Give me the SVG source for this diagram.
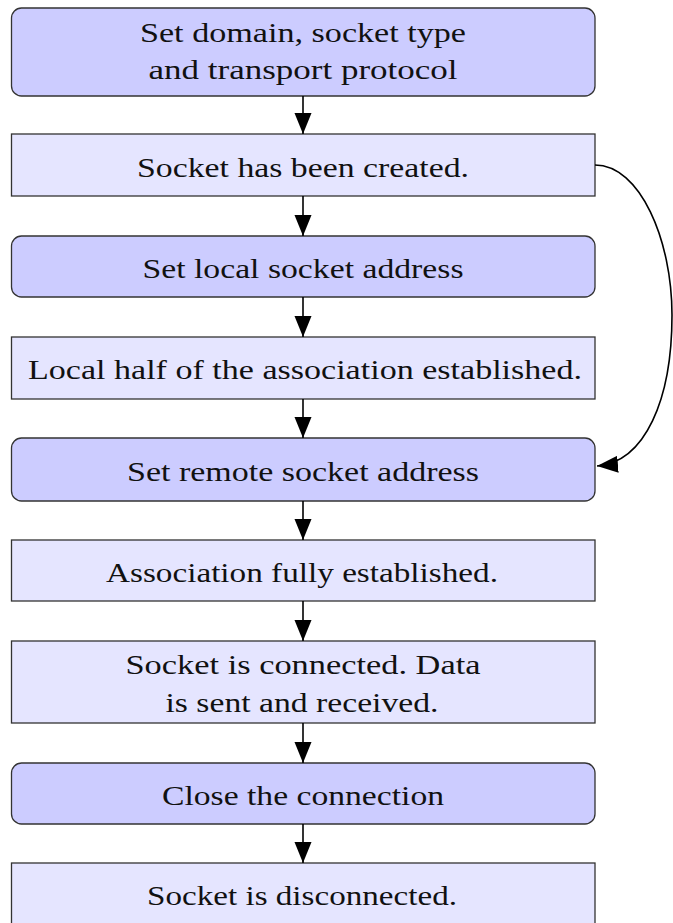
<svg xmlns="http://www.w3.org/2000/svg" width="673" height="923" viewBox="0 0 673 923">
<style>
.r{fill:#ccccff;stroke:#333;stroke-width:1.3}
.s{fill:#e5e5ff;stroke:#333;stroke-width:1.3}
.t text{font-size:28px;fill:#111;text-anchor:middle}
.c path{fill:none;stroke:#000;stroke-width:1.6}
</style>
<defs>
<marker id="ah" markerUnits="userSpaceOnUse" markerWidth="22" markerHeight="18" refX="21" refY="8.5" orient="auto">
<path d="M0,0 L21,8.5 L0,17 Z" fill="#000"/>
</marker>
</defs>
<rect width="673" height="923" fill="#fff"/>
<g class="t" font-family="Liberation Serif, DejaVu Serif, serif">
<g id="n1"><rect class="r" x="11.5" y="8" width="583.5" height="88" rx="10"/><text x="303" y="42" textLength="326" lengthAdjust="spacingAndGlyphs">Set domain, socket type</text><text x="303" y="79" textLength="309" lengthAdjust="spacingAndGlyphs">and transport protocol</text></g>
<g id="n2"><rect class="s" x="11.5" y="134" width="583.5" height="62"/><text x="303" y="177" textLength="332" lengthAdjust="spacingAndGlyphs">Socket has been created.</text></g>
<g id="n3"><rect class="r" x="11.5" y="236" width="583.5" height="61" rx="10"/><text x="303" y="278" textLength="321" lengthAdjust="spacingAndGlyphs">Set local socket address</text></g>
<g id="n4"><rect class="s" x="11.5" y="337" width="583.5" height="62"/><text x="305" y="379" textLength="554" lengthAdjust="spacingAndGlyphs">Local half of the association established.</text></g>
<g id="n5"><rect class="r" x="11.5" y="438" width="583.5" height="63" rx="10"/><text x="303" y="481" textLength="352" lengthAdjust="spacingAndGlyphs">Set remote socket address</text></g>
<g id="n6"><rect class="s" x="11.5" y="540" width="583.5" height="61"/><text x="302" y="582" textLength="392" lengthAdjust="spacingAndGlyphs">Association fully established.</text></g>
<g id="n7"><rect class="s" x="11.5" y="641" width="583.5" height="82"/><text x="303" y="674" textLength="355" lengthAdjust="spacingAndGlyphs">Socket is connected. Data</text><text x="302" y="712" textLength="273" lengthAdjust="spacingAndGlyphs">is sent and received.</text></g>
<g id="n8"><rect class="r" x="11.5" y="763" width="583.5" height="61" rx="10"/><text x="303" y="805" textLength="282" lengthAdjust="spacingAndGlyphs">Close the connection</text></g>
<g id="n9"><rect class="s" x="11.5" y="863" width="583.5" height="62"/><text x="302" y="905" textLength="310" lengthAdjust="spacingAndGlyphs">Socket is disconnected.</text></g>
</g>
<g class="c" id="connectors">
<path d="M303,96 V134" marker-end="url(#ah)"/>
<path d="M303,196 V236" marker-end="url(#ah)"/>
<path d="M303,297 V337" marker-end="url(#ah)"/>
<path d="M303,399 V438" marker-end="url(#ah)"/>
<path d="M303,501 V540" marker-end="url(#ah)"/>
<path d="M303,601 V641" marker-end="url(#ah)"/>
<path d="M303,723 V763" marker-end="url(#ah)"/>
<path d="M303,824 V863" marker-end="url(#ah)"/>
<path d="M595,165 C640,165 672,240 672,315 C672,400 645,462 597,466" marker-end="url(#ah)"/>
</g>
</svg>
